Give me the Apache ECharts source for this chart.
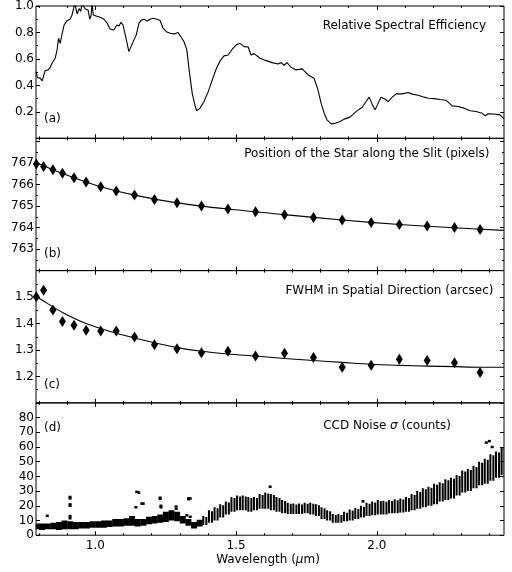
<!DOCTYPE html>
<html>
<head>
<meta charset="utf-8">
<script src="https://cdn.jsdelivr.net/npm/echarts@6/dist/echarts.min.js"></script>
<style>
  html, body { margin: 0; padding: 0; background: #fff; }
  #chart { width: 512px; height: 572px; }
</style>
</head>
<body>
<div id="chart"></div>
<script>
// (a) relative spectral efficiency
const effWave = [0.789, 0.795, 0.803, 0.811, 0.821, 0.832, 0.839, 0.846, 0.857, 0.864, 0.869, 0.875, 0.882, 0.889, 0.899,
  0.910, 0.917, 0.927, 0.935, 0.942, 0.948, 0.953, 0.963, 0.974, 0.980, 0.985, 0.988, 0.993, 1.002, 1.017, 1.031,
  1.042, 1.052, 1.066, 1.076, 1.084, 1.091, 1.098, 1.109, 1.119, 1.130, 1.145, 1.155, 1.162, 1.173, 1.184, 1.194,
  1.205, 1.219, 1.230, 1.241, 1.252, 1.266, 1.280, 1.294, 1.305, 1.315, 1.325, 1.333, 1.344, 1.355, 1.360, 1.372,
  1.386, 1.401, 1.415, 1.429, 1.443, 1.457, 1.472, 1.486, 1.500, 1.514, 1.529, 1.543, 1.553, 1.564, 1.571, 1.585,
  1.607, 1.628, 1.649, 1.660, 1.671, 1.681, 1.695, 1.713, 1.735, 1.756, 1.777, 1.791, 1.802, 1.813, 1.823, 1.838,
  1.855, 1.870, 1.884, 1.905, 1.926, 1.948, 1.962, 1.973, 1.983, 1.994, 2.005, 2.015, 2.030, 2.040, 2.055, 2.069,
  2.090, 2.111, 2.126, 2.147, 2.168, 2.183, 2.204, 2.225, 2.246, 2.268, 2.289, 2.310, 2.332, 2.353, 2.374, 2.385,
  2.396, 2.417, 2.438, 2.452];
const effVal = [0.504, 0.456, 0.457, 0.434, 0.51, 0.517, 0.534, 0.567, 0.605, 0.668, 0.756, 0.718, 0.794, 0.857, 0.889,
  0.90, 0.932, 1.02, 0.94, 0.98, 0.96, 1.02, 0.98, 0.97, 0.90, 0.93, 1.02, 0.93, 0.925, 0.915, 0.90,
  0.87, 0.826, 0.819, 0.857, 0.849, 0.877, 0.857, 0.756, 0.655, 0.71, 0.78, 0.87, 0.89, 0.90, 0.887, 0.90,
  0.907, 0.90, 0.89, 0.83, 0.806, 0.794, 0.789, 0.80, 0.764, 0.73, 0.668, 0.517, 0.341, 0.24, 0.208, 0.228,
  0.278, 0.353, 0.44, 0.522, 0.585, 0.623, 0.63, 0.673, 0.706, 0.718, 0.693, 0.69, 0.63, 0.64, 0.643, 0.605,
  0.587, 0.572, 0.562, 0.572, 0.552, 0.572, 0.537, 0.517, 0.525, 0.479, 0.454, 0.366, 0.266, 0.19, 0.14, 0.109,
  0.115, 0.127, 0.145, 0.16, 0.202, 0.235, 0.278, 0.311, 0.26, 0.215, 0.266, 0.311, 0.295, 0.278, 0.311, 0.336,
  0.336, 0.346, 0.334, 0.326, 0.311, 0.303, 0.30, 0.293, 0.288, 0.245, 0.24, 0.228, 0.208, 0.203, 0.19, 0.17,
  0.185, 0.184, 0.177, 0.147];

// wavelengths of the measured points in (b) and (c)
const ptWave = [0.790, 0.816, 0.849, 0.883, 0.924, 0.967, 1.019, 1.074, 1.139, 1.210, 1.290, 1.377, 1.471, 1.569,
  1.672, 1.775, 1.877, 1.980, 2.080, 2.179, 2.276, 2.367];

// (b) position of the star along the slit
const posVal = [766.95, 766.84, 766.69, 766.52, 766.32, 766.12, 765.90, 765.70, 765.51, 765.31, 765.15, 765.00,
  764.86, 764.73, 764.60, 764.47, 764.35, 764.24, 764.14, 764.07, 764.00, 763.91];
const posFitWave = [0.789, 0.849, 0.924, 1.019, 1.139, 1.290, 1.471, 1.672, 1.877, 2.080, 2.276, 2.452];
const posFitVal = [767.02, 766.69, 766.32, 765.90, 765.51, 765.15, 764.86, 764.60, 764.35, 764.14, 763.99, 763.87];

// (c) FWHM in spatial direction
const fwhmVal = [1.501, 1.526, 1.451, 1.408, 1.393, 1.375, 1.372, 1.372, 1.349, 1.320, 1.305, 1.290, 1.295, 1.277,
  1.2875, 1.272, 1.235, 1.242, 1.265, 1.260, 1.252, 1.215];
const fwhmFitWave = [0.789, 0.816, 0.849, 0.883, 0.924, 0.967, 1.019, 1.074, 1.139, 1.210, 1.290, 1.377, 1.471,
  1.569, 1.672, 1.775, 1.877, 1.980, 2.080, 2.179, 2.276, 2.367, 2.452];
const fwhmFitVal = [1.503, 1.485, 1.463, 1.442, 1.420, 1.400, 1.381, 1.363, 1.345, 1.327, 1.309, 1.295, 1.285,
  1.277, 1.268, 1.260, 1.253, 1.246, 1.242, 1.239, 1.237, 1.235, 1.235];

// (d) CCD noise: spread of the points (low/high) at each wavelength
const noiseWave = [0.79, 0.81, 0.83, 0.85, 0.87, 0.89, 0.91, 0.93, 0.95, 0.97, 0.99, 1.01, 1.03, 1.05, 1.07, 1.09,
  1.11, 1.13, 1.15, 1.17, 1.19, 1.21, 1.23, 1.25, 1.27, 1.29, 1.31, 1.33, 1.35, 1.37, 1.39, 1.41, 1.43, 1.45, 1.47,
  1.49, 1.51, 1.53, 1.55, 1.57, 1.59, 1.61, 1.63, 1.65, 1.67, 1.69, 1.71, 1.73, 1.75, 1.77, 1.79, 1.81, 1.83, 1.85,
  1.87, 1.89, 1.91, 1.93, 1.95, 1.97, 1.99, 2.01, 2.03, 2.05, 2.07, 2.09, 2.11, 2.13, 2.15, 2.17, 2.19, 2.21, 2.23,
  2.25, 2.27, 2.29, 2.31, 2.33, 2.35, 2.37, 2.39, 2.41, 2.43, 2.45];
const noiseLo = [4, 3.5, 4, 4, 3.5, 4, 4, 4, 4.5, 4.5, 5, 5, 5, 5.5, 6, 6,
  6.5, 6.5, 6, 6.5, 7.5, 8, 8.5, 9, 10, 9.5, 8, 6.5, 4.5, 6, 7, 8.5, 10, 12, 14,
  16, 17, 17, 16, 17, 18, 18, 17, 16, 15, 14.5, 14.5, 14.5, 15, 14, 13, 11, 10, 8.5,
  8.5, 9.5, 10, 11, 12, 13, 13.5, 14, 14, 15, 15, 15.5, 16, 17, 18, 19, 20, 21, 23,
  24, 25, 27, 29, 30, 32, 34, 35, 37, 39, 41];
const noiseHi = [8, 8, 8, 8.5, 9, 10, 9.5, 9, 9, 9, 9.5, 9.5, 10, 10, 11, 11,
  11.5, 13, 11, 11, 12.5, 13, 14, 16, 17, 16, 13, 11, 9, 10.5, 13, 17, 19, 21, 23,
  26, 27, 27, 26, 26, 28, 29, 28, 26, 24, 22, 21.5, 21.5, 22, 22, 21, 19, 17, 14.5,
  14.5, 16, 17.5, 18.5, 20, 22, 23, 24, 23.5, 24, 24.5, 25, 26, 28, 30, 32, 33, 35, 36,
  38, 39, 41, 44, 45, 47, 50, 52, 55, 57, 60];
// isolated points
const outWave = [0.829, 0.910, 0.910, 0.910, 0.910, 0.910, 0.910, 1.147, 1.154, 1.144, 1.165, 1.170, 1.230, 1.230,
  1.233, 1.233, 1.287, 1.287, 1.331, 1.331, 1.337, 1.325, 1.337, 1.621, 1.951, 2.389, 2.400, 2.410];
const outVal = [13.2, 26, 25, 21, 20, 13, 11.5, 29.5, 29, 19, 21.5, 21.5, 24.7, 25.5,
  20, 19, 19.5, 18, 25, 24.5, 25, 13.5, 12.5, 33, 23, 63, 64, 60];

const xMajorTicks = [1.0, 1.5, 2.0];
const xMinorTicks = [0.8, 0.9, 1.1, 1.2, 1.3, 1.4, 1.6, 1.7, 1.8, 1.9, 2.1, 2.2, 2.3, 2.4];

const XMIN = 0.789, XMAX = 2.452;
const FONT = 'DejaVu Sans';
const tops = [6, 138.3, 270.6, 402.9];
const panelH = 132.3;

// y axes for each panel
const yConf = [
  { min: 0, max: 1.0, interval: 0.2, minor: 2, fmt: v => (v > 0.1 ? v.toFixed(1) : '') },
  { min: 762, max: 768.15, interval: 1, minor: 2, fmt: v => (v >= 763 && v <= 767 ? String(Math.round(v)) : '') },
  { min: 1.1, max: 1.6, interval: 0.1, minor: 2, fmt: v => (v > 1.15 && v < 1.55 ? v.toFixed(1) : '') },
  { min: 0, max: 90, interval: 10, minor: 0, fmt: v => (v < 85 ? String(Math.round(v)) : '') }
];

const tickStyle = { color: '#000', width: 1 };

let grids = [], xAxes = [], yAxes = [];
tops.forEach((t, g) => {
  grids.push({ left: 36, right: 8, top: t, height: panelH, show: true, borderColor: '#000', borderWidth: 1, backgroundColor: 'transparent' });
  ['bottom', 'top'].forEach(pos => {
    [[xMajorTicks, 4], [xMinorTicks, 2]].forEach(([ticks, len], k) => {
      const showLabel = (g === 3 && pos === 'bottom' && k === 0);
      xAxes.push({
        type: 'value', gridIndex: g, position: pos, min: XMIN, max: XMAX,
        axisLine: { show: false }, splitLine: { show: false },
        axisTick: { show: true, inside: true, length: len, customValues: ticks, lineStyle: tickStyle },
        axisLabel: {
          show: showLabel, customValues: xMajorTicks, margin: 5,
          fontFamily: FONT, fontSize: 12, color: '#000',
          formatter: v => v.toFixed(1)
        }
      });
    });
  });
  const c = yConf[g];
  ['left', 'right'].forEach(pos => {
    yAxes.push({
      type: 'value', gridIndex: g, position: pos, min: c.min, max: c.max, interval: c.interval,
      axisLine: { show: false }, splitLine: { show: false },
      axisTick: { show: true, inside: true, length: 4, lineStyle: tickStyle },
      minorTick: { show: c.minor > 0, splitNumber: c.minor || 5, length: 2, lineStyle: tickStyle },
      axisLabel: {
        show: pos === 'left', margin: 2, fontFamily: FONT, fontSize: 12, color: '#000',
        showMinLabel: true, showMaxLabel: true, formatter: c.fmt
      }
    });
  });
});

const zip = (a, b) => a.map((v, i) => [v, b[i]]);
const lineCommon = { type: 'line', showSymbol: false, symbol: 'none', lineStyle: { color: '#000', width: 1.1 }, silent: true, animation: false };
const dotStyle = { color: '#000', opacity: 1 };

const series = [
  Object.assign({}, lineCommon, { xAxisIndex: 0, yAxisIndex: 0, data: zip(effWave, effVal) }),
  Object.assign({}, lineCommon, { xAxisIndex: 4, yAxisIndex: 2, smooth: 0.3, data: zip(posFitWave, posFitVal) }),
  {
    type: 'scatter', xAxisIndex: 4, yAxisIndex: 2, symbol: 'diamond', symbolSize: [7, 11],
    itemStyle: dotStyle, data: zip(ptWave, posVal), animation: false
  },
  Object.assign({}, lineCommon, { xAxisIndex: 8, yAxisIndex: 4, smooth: 0.3, data: zip(fwhmFitWave, fwhmFitVal) }),
  {
    type: 'scatter', xAxisIndex: 8, yAxisIndex: 4, symbol: 'diamond', symbolSize: [7, 11],
    itemStyle: dotStyle, data: zip(ptWave, fwhmVal), animation: false
  },
  {
    type: 'custom', xAxisIndex: 12, yAxisIndex: 6, animation: false, clip: true,
    data: noiseWave.map((w, i) => [w, noiseLo[i], noiseHi[i]]),
    encode: { x: 0, y: [1, 2] },
    renderItem: (params, api) => {
      const x = api.value(0);
      const hi = api.coord([x, api.value(2)]);
      const lo = api.coord([x, api.value(1)]);
      const step = api.size([0.02, 0])[0];
      const h = lo[1] - hi[1];
      if (x < 1.38) {
        return { type: 'rect', shape: { x: hi[0] - step / 2, y: hi[1], width: step + 0.3, height: h }, style: { fill: '#000' } };
      }
      // striped columns, as the dense dots look in the reference
      return {
        type: 'group',
        children: [
          { type: 'rect', shape: { x: hi[0] - step / 2, y: hi[1], width: 2, height: h }, style: { fill: '#000' } },
          { type: 'rect', shape: { x: hi[0] + 0.2, y: hi[1] + 1, width: 2, height: h - 1 }, style: { fill: '#000' } }
        ]
      };
    }
  },
  {
    type: 'scatter', xAxisIndex: 12, yAxisIndex: 6, symbol: 'rect', symbolSize: [3, 2.5],
    itemStyle: dotStyle, data: zip(outWave, outVal), animation: false
  }
];

const txt = (x, y, text, align, rich) => ({
  type: 'text', x: x, y: y, silent: true,
  style: { text: text, align: align, verticalAlign: 'middle', font: '12px "' + FONT + '"', fill: '#000', rich: rich }
});
const italic = { a: { fontFamily: FONT, fontSize: 12, fill: '#000' }, i: { fontFamily: FONT, fontSize: 12, fontStyle: 'italic', fill: '#000' } };

const graphic = [
  txt(486, 26, 'Relative Spectral Efficiency', 'right'),
  txt(489.5, 154, 'Position of the Star along the Slit (pixels)', 'right'),
  txt(493.5, 291, 'FWHM in Spatial Direction (arcsec)', 'right'),
  txt(451, 426, '{a|CCD Noise }{i|σ}{a| (counts)}', 'right', italic),
  txt(44, 119, '(a)', 'left'),
  txt(44, 254, '(b)', 'left'),
  txt(44, 384.5, '(c)', 'left'),
  txt(44, 427.5, '(d)', 'left'),
  txt(268, 560, '{a|Wavelength (}{i|μ}{a|m)}', 'center', italic)
];

const chart = echarts.init(document.getElementById('chart'), null, { renderer: 'canvas' });
chart.setOption({
  animation: false,
  backgroundColor: '#fff',
  grid: grids,
  xAxis: xAxes,
  yAxis: yAxes,
  series: series,
  graphic: graphic
});
</script>
</body>
</html>
